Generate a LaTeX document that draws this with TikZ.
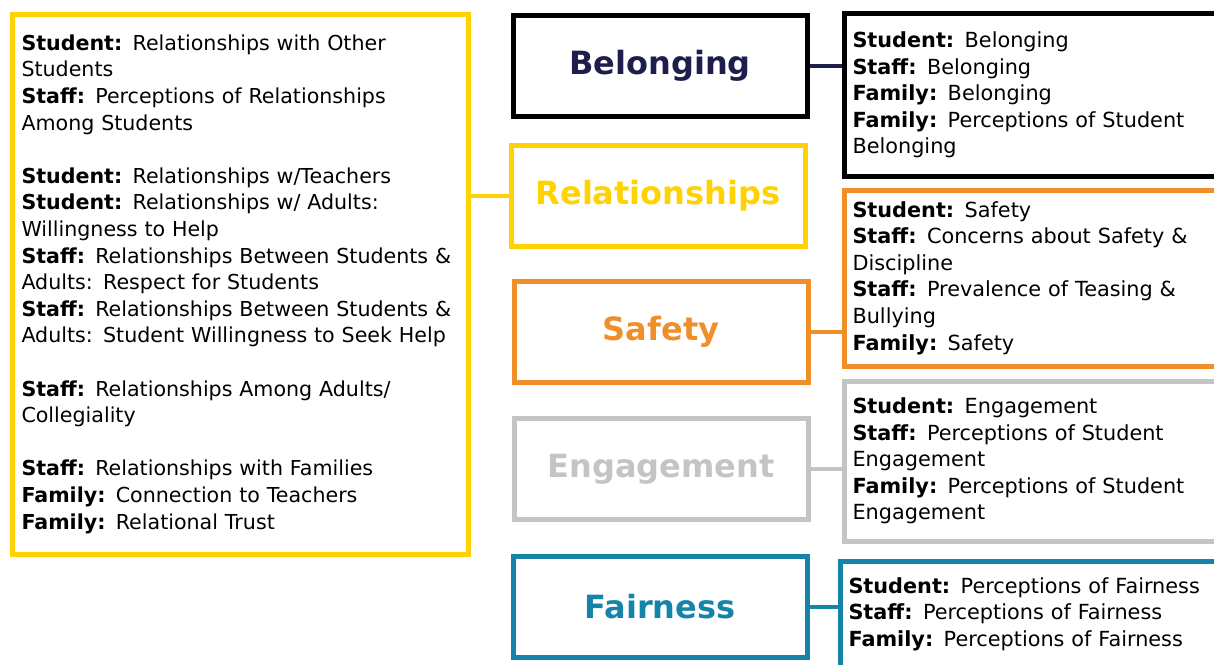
\documentclass[tikz,border=0pt]{standalone}
\usepackage{fontspec}
\setmainfont{DejaVu Sans}
\usetikzlibrary{positioning}

\definecolor{relyellow}{HTML}{FFD200}
\definecolor{safeorange}{HTML}{F08E2A}
\definecolor{engagegray}{HTML}{C4C4C4}
\definecolor{fairteal}{HTML}{1584A8}
\definecolor{belongnavy}{HTML}{1E1E4C}

\tikzset{
  topic/.style={draw, line width=5pt, minimum width=294pt, minimum height=101pt,
    font=\fontsize{32}{38}\selectfont\bfseries},
  info/.style={draw, line width=5pt, anchor=west, text width=420pt, align=left,
    inner xsep=8pt, font=\fontsize{20.8}{26.6}\selectfont},
}

\begin{document}
\begin{tikzpicture}[x=1pt, y=-1pt]
  \useasboundingbox (0,0) rectangle (1214,664);
  \clip (0,0) rectangle (1214,664);

  % Topic boxes
  \node[topic, draw=black, text=belongnavy] (belong) at (660,66) {Belonging};
  \node[topic, draw=relyellow, text=relyellow] (relate) at (658,196) {Relationships};
  \node[topic, draw=safeorange, text=safeorange] (safety) at (661,332) {Safety};
  \node[topic, draw=engagegray, text=engagegray] (engage) at (661,469) {Engagement};
  \node[topic, draw=fairteal, text=fairteal] (fair) at (660,607) {Fairness};

  % Relationships measures
  \node[draw=relyellow, line width=5pt, text width=437pt, align=left, inner xsep=9.5pt,
    minimum height=540pt, font=\fontsize{20.6}{26.6}\selectfont] (relateinfo) at (240,284)
    {\textbf{Student:} Relationships with Other\\ Students\\
     \textbf{Staff:} Perceptions of Relationships\\ Among Students\\[\baselineskip]
     \textbf{Student:} Relationships w/Teachers\\
     \textbf{Student:} Relationships w/ Adults:\\ Willingness to Help\\
     \textbf{Staff:} Relationships Between Students \&\\ Adults: Respect for Students\\
     \textbf{Staff:} Relationships Between Students \&\\ Adults: Student Willingness to Seek Help\\[\baselineskip]
     \textbf{Staff:} Relationships Among Adults/\\ Collegiality\\[\baselineskip]
     \textbf{Staff:} Relationships with Families\\
     \textbf{Family:} Connection to Teachers\\
     \textbf{Family:} Relational Trust};

  % Other measures
  \node[info, draw=black, minimum height=163pt] (belonginfo) at (842,95)
    {\textbf{Student:} Belonging\\ \textbf{Staff:} Belonging\\ \textbf{Family:} Belonging\\
     \textbf{Family:} Perceptions of Student\\ Belonging};
  \node[info, draw=safeorange, minimum height=176pt] (safetyinfo) at (842,278)
    {\textbf{Student:} Safety\\ \textbf{Staff:} Concerns about Safety \&\\ Discipline\\
     \textbf{Staff:} Prevalence of Teasing \&\\ Bullying\\ \textbf{Family:} Safety};
  \node[info, draw=engagegray, minimum height=160pt] (engageinfo) at (842,461)
    {\textbf{Student:} Engagement\\ \textbf{Staff:} Perceptions of Student\\ Engagement\\
     \textbf{Family:} Perceptions of Student\\ Engagement};
  \node[info, draw=fairteal, minimum height=106pt] (fairinfo) at (838,614)
    {\textbf{Student:} Perceptions of Fairness\\ \textbf{Staff:} Perceptions of Fairness\\
     \textbf{Family:} Perceptions of Fairness};

  % Connectors
  \draw[line width=4pt, relyellow] (relate.west) -- (relate.west -| relateinfo.east);
  \draw[line width=4pt, belongnavy] (belong.east) -- (belong.east -| belonginfo.west);
  \draw[line width=4pt, safeorange] (safety.east) -- (safety.east -| safetyinfo.west);
  \draw[line width=4pt, engagegray] (engage.east) -- (engage.east -| engageinfo.west);
  \draw[line width=4pt, fairteal] (fair.east) -- (fair.east -| fairinfo.west);
\end{tikzpicture}
\end{document}
